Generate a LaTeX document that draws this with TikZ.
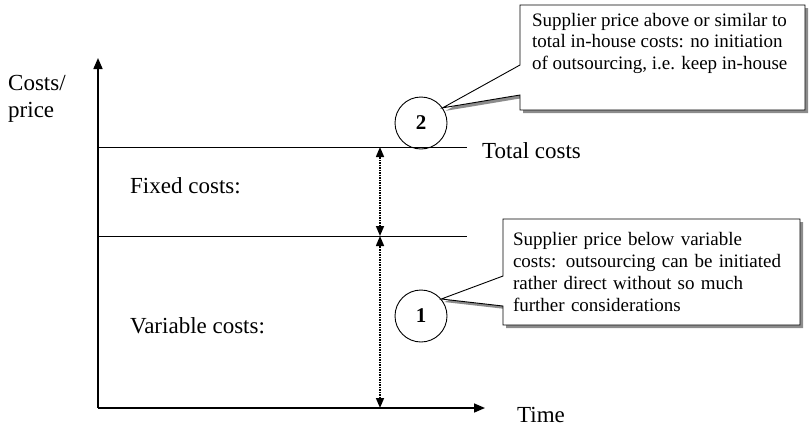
\documentclass[tikz,border=0pt]{standalone}
\usepackage{fontspec}
\setmainfont{Liberation Serif}
\usetikzlibrary{arrows.meta,shapes.callouts,shadows}

\tikzset{
	lbl/.style={anchor=base west, inner sep=0pt, font=\fontsize{23}{27}\selectfont},
	marker/.style={circle, draw, line width=0.9pt, minimum size=52pt, inner sep=0pt, font=\fontsize{21}{21}\selectfont\bfseries},
	remark/.style={rectangle callout, draw, fill=white, line width=0.9pt, callout pointer width=30pt, align=left,
		font=\fontsize{19}{21.7}\selectfont,
		drop shadow={shadow xshift=3pt, shadow yshift=-3pt, fill=black!45, opacity=1}},
	axis/.style={line width=1.6pt, -{Triangle[length=11pt,width=9pt]}},
	span/.style={line width=1.5pt, densely dotted, {Triangle[length=10pt,width=8pt]}-{Triangle[length=10pt,width=8pt]}}
}

\begin{document}
\begin{tikzpicture}[x=1pt, y=-1pt]
		\useasboundingbox (0,0) rectangle (809,426);

		\coordinate (origin) at (98,408);
		\coordinate (ytip) at (98,58);
		\coordinate (xtip) at (485,408);
		\coordinate (totL) at (98,147);
		\coordinate (totR) at (467,147);
		\coordinate (varL) at (98,236);
		\coordinate (varR) at (467,236);
		\coordinate (totM) at (380,147);
		\coordinate (varM) at (380,236);
		\coordinate (baseM) at (380,408);

		\draw [axis] (origin) -- (ytip);
		\draw [axis] (origin) -- (xtip);
		\draw [line width=0.9pt] (totL) -- (totR);
		\draw [line width=0.9pt] (varL) -- (varR);
		\draw [span] (varM) -- (totM);
		\draw [span] (baseM) -- (varM);

		% base anchor sits on the last line here
		\node [lbl, align=left] (ylabel) at (8,117) {Costs/\\price};
		\node [lbl] (xlabel) at (517,422) {Time};
		\node [lbl] (fixed) at (130,193) {Fixed costs:};
		\node [lbl] (variable) at (130,333) {Variable costs:};
		\node [lbl] (total) at (482,158) {Total costs};

		\node [marker] (c2) at (421,123) {2};
		\node [marker] (c1) at (421,316) {1};

		\node [remark, minimum width=285pt, minimum height=105pt, inner sep=0pt,
			callout absolute pointer={(c2.35)}] (note2) at (662.5,57.5)
			{\parbox[c][89pt][t]{261pt}{\raggedright Supplier price above or similar to\\total in-house costs: no initiation\\of outsourcing, i.e. keep in-house}};
		\node [remark, minimum width=297pt, minimum height=106pt, inner xsep=10pt, text width=277pt,
			callout absolute pointer={(c1.40)}] (note1) at (651.5,272)
			{Supplier price below variable\\costs: outsourcing can be initiated\\rather direct without so much\\further considerations};

	\end{tikzpicture}
\end{document}
